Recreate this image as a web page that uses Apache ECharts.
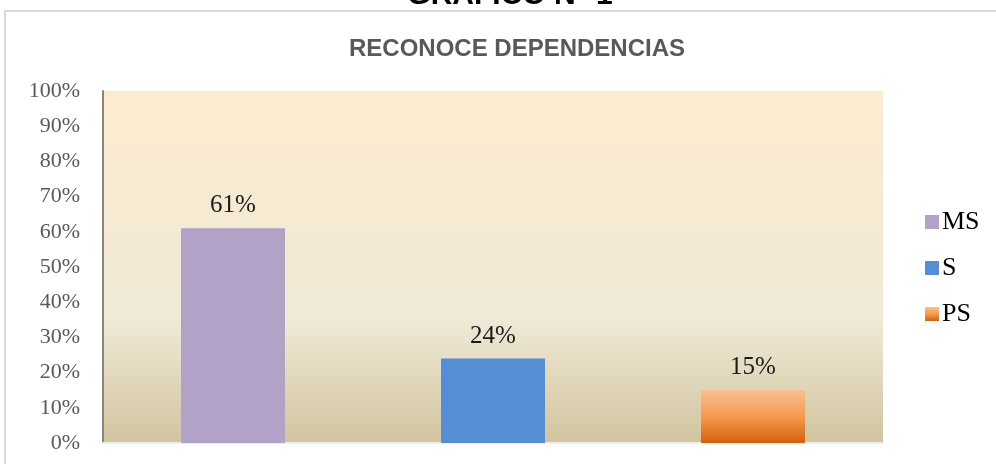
<!DOCTYPE html>
<html>
<head>
<meta charset="utf-8">
<script src="https://cdn.jsdelivr.net/npm/echarts@6/dist/echarts.min.js"></script>
<style>
  html, body { margin: 0; padding: 0; background: #fff; }
  #main { width: 996px; height: 464px; }
</style>
</head>
<body>
<div id="main"></div>
<script>
  // datos del grafico
  var categorias = ['MS', 'S', 'PS'];
  var valores = [61, 24, 15];
  var ticksY = [0, 10, 20, 30, 40, 50, 60, 70, 80, 90, 100];

  var colores = [
    '#B3A2C7',
    '#558ED5',
    new echarts.graphic.LinearGradient(0, 0, 0, 1, [
      { offset: 0, color: '#FAC090' },
      { offset: 0.5, color: '#F59A4E' },
      { offset: 1, color: '#D3600C' }
    ])
  ];

  // una serie por categoria, apiladas para que queden centradas
  var series = [];
  for (var i = 0; i < categorias.length; i++) {
    var d = [];
    for (var j = 0; j < categorias.length; j++) {
      d.push(i == j ? valores[i] : '-');
    }
    series.push({
      name: categorias[i],
      type: 'bar',
      stack: 'total',
      barWidth: '40%',
      data: d,
      itemStyle: { color: colores[i] },
      label: {
        show: true,
        position: 'top',
        distance: 10,
        formatter: '{c}%',
        color: '#1a1a1a',
        fontFamily: 'Liberation Serif',
        fontSize: 25
      }
    });
  }

  var myChart = echarts.init(document.getElementById('main'));
  myChart.setOption({
    backgroundColor: '#fff',
    animation: false,
    graphic: [
      {
        type: 'rect',
        shape: { x: 5, y: 11, width: 1000, height: 470 },
        style: { fill: 'none', stroke: '#D9D9D9', lineWidth: 2 },
        z: 0
      },
      {
        type: 'text',
        x: 510,
        y: -19,
        style: {
          text: 'GRAFICO N° 1',
          fill: '#000',
          align: 'center',
          verticalAlign: 'top',
          font: 'bold 30px "Liberation Sans"'
        }
      }
    ],
    title: {
      text: 'RECONOCE DEPENDENCIAS',
      left: 512,
      textAlign: 'center',
      top: 32,
      textStyle: {
        fontFamily: 'Liberation Sans',
        fontSize: 24,
        fontWeight: 'bold',
        color: '#595959'
      }
    },
    legend: {
      orient: 'vertical',
      left: 920,
      top: 204,
      itemWidth: 14,
      itemHeight: 14,
      itemGap: 20,
      icon: 'rect',
      textStyle: {
        fontFamily: 'Liberation Serif',
        fontSize: 26,
        color: '#000',
        padding: [0, 0, 0, -2]
      },
      data: categorias
    },
    grid: {
      left: 103,
      top: 91,
      width: 780,
      height: 352,
      show: true,
      borderWidth: 0,
      backgroundColor: new echarts.graphic.LinearGradient(0, 0, 0, 1, [
        { offset: 0, color: '#FDEBCF' },
        { offset: 0.65, color: '#EFE9D6' },
        { offset: 1, color: '#D2C4A0' }
      ])
    },
    xAxis: {
      type: 'category',
      data: categorias,
      axisLine: { show: true, lineStyle: { color: '#F2EEE4', width: 2 } },
      axisTick: { show: false },
      axisLabel: { show: false }
    },
    yAxis: {
      type: 'value',
      min: ticksY[0],
      max: ticksY[ticksY.length - 1],
      interval: 10,
      axisLine: { show: true, lineStyle: { color: '#868686', width: 2 } },
      axisTick: { show: false },
      splitLine: { show: false },
      axisLabel: {
        formatter: '{value}%',
        margin: 23,
        color: '#595959',
        fontFamily: 'Liberation Serif',
        fontSize: 22
      }
    },
    series: series
  });
</script>
</body>
</html>
